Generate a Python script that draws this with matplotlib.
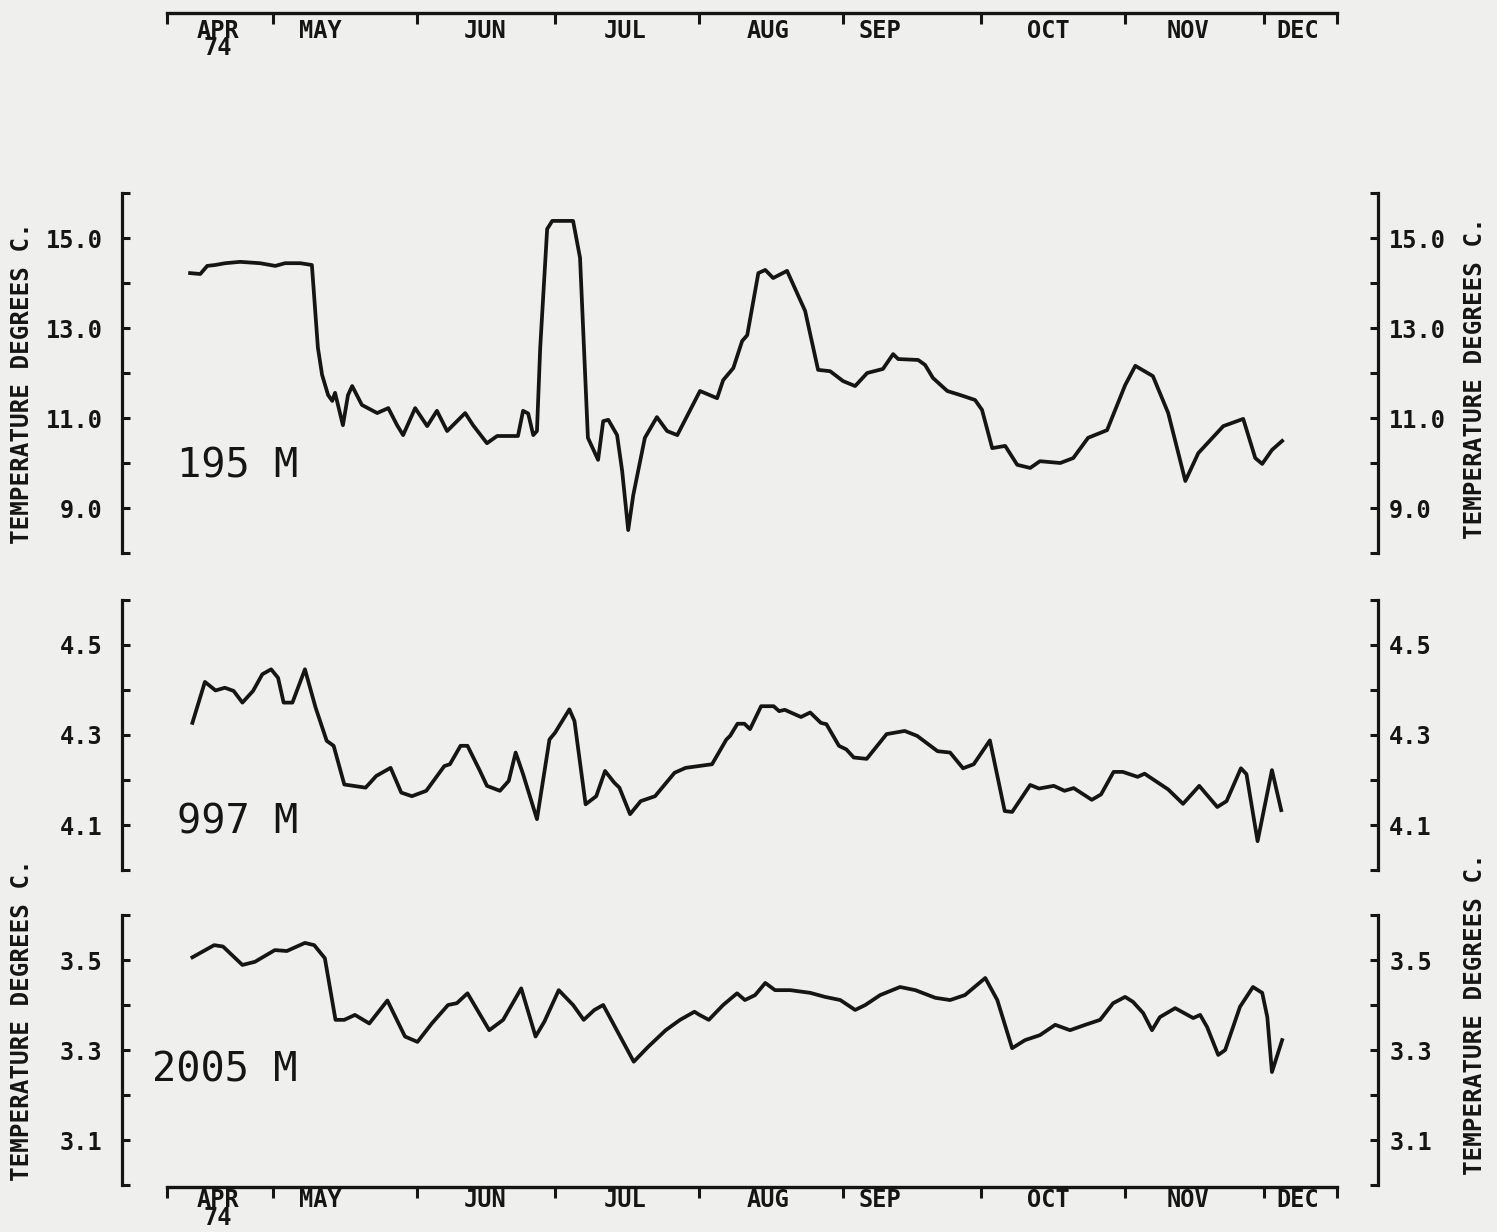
import matplotlib.pyplot as plt

# x values are days counted from 1 April 1974
day_195 = [12.1, 14.3, 15.8, 17.5, 19.7, 22.9, 27.2, 30.5, 32.6, 35.9, 38.4, 39.7,
           40.6, 41.9, 42.8, 43.4, 45.1, 46.2, 47.1, 49.2, 52.5, 54.9, 56.8, 58.1,
           60.7, 63.3, 65.4, 67.6, 71.5, 73.2, 76.2, 78.4, 82.9, 84.0, 85.1, 86.2,
           87.0, 87.7, 89.2, 90.3, 94.8, 96.3, 98.0, 100.2, 101.3, 102.4, 104.3, 105.4,
           106.7, 107.8, 110.3, 112.9, 115.1, 117.3, 122.2, 125.9, 127.2, 129.4, 131.3, 132.4,
           134.8, 136.3, 138.0, 141.0, 144.9, 147.7, 150.3, 153.1, 155.7, 158.3, 161.7, 163.9,
           165.0, 169.3, 170.8, 172.5, 175.6, 178.4, 181.6, 183.1, 185.3, 188.1, 190.7, 193.5,
           195.6, 200.0, 202.8, 206.0, 210.1, 214.0, 216.2, 220.0, 223.3, 227.0, 229.8, 235.2,
           239.5, 242.1, 243.6, 245.7, 247.9]
temp_195 = [14.22, 14.20, 14.38, 14.40, 14.44, 14.47, 14.44, 14.38, 14.44, 14.44, 14.40, 12.56,
            11.96, 11.51, 11.38, 11.56, 10.84, 11.51, 11.71, 11.29, 11.11, 11.22, 10.84, 10.62,
            11.22, 10.82, 11.16, 10.71, 11.11, 10.84, 10.44, 10.60, 10.60, 11.16, 11.10, 10.62,
            10.71, 12.56, 15.20, 15.38, 15.38, 14.56, 10.56, 10.07, 10.93, 10.96, 10.62, 9.82,
            8.51, 9.29, 10.56, 11.02, 10.71, 10.62, 11.60, 11.44, 11.84, 12.11, 12.71, 12.84,
            14.22, 14.29, 14.11, 14.27, 13.38, 12.07, 12.04, 11.82, 11.71, 12.00, 12.09, 12.42,
            12.31, 12.29, 12.18, 11.89, 11.60, 11.51, 11.40, 11.18, 10.33, 10.38, 9.96, 9.89,
            10.04, 10.00, 10.11, 10.56, 10.73, 11.73, 12.16, 11.93, 11.11, 9.60, 10.22, 10.82,
            10.98, 10.11, 9.98, 10.29, 10.49]

day_997 = [12.6, 15.3, 17.6, 19.6, 21.5, 23.4, 25.7, 27.7, 29.6, 31.1, 32.3, 34.2,
           36.9, 39.2, 41.6, 43.1, 45.4, 50.0, 52.3, 55.4, 57.7, 60.0, 63.1, 67.0,
           68.2, 70.5, 72.0, 74.7, 76.2, 79.0, 80.9, 82.4, 84.0, 87.0, 89.7, 90.9,
           94.0, 95.1, 97.5, 99.8, 101.7, 103.7, 104.8, 107.1, 109.4, 112.5, 116.7, 119.1,
           124.8, 127.9, 128.7, 130.3, 131.8, 133.0, 135.4, 138.1, 139.3, 140.5, 144.0, 146.0,
           148.3, 149.5, 152.2, 153.8, 155.4, 158.2, 162.5, 166.4, 169.1, 173.5, 176.2, 179.0,
           181.3, 184.8, 188.0, 189.6, 193.5, 195.4, 198.6, 200.9, 202.9, 206.8, 208.8, 211.5,
           213.5, 216.7, 218.2, 223.3, 226.5, 230.0, 233.9, 235.9, 239.0, 240.2, 242.6, 245.7,
           247.7]
temp_997 = [4.327, 4.418, 4.399, 4.405, 4.398, 4.372, 4.398, 4.435, 4.446, 4.427, 4.372, 4.372,
            4.446, 4.361, 4.287, 4.276, 4.190, 4.183, 4.209, 4.227, 4.172, 4.164, 4.176, 4.231,
            4.235, 4.276, 4.276, 4.220, 4.187, 4.176, 4.198, 4.261, 4.213, 4.113, 4.290, 4.305,
            4.357, 4.331, 4.146, 4.164, 4.220, 4.194, 4.183, 4.124, 4.153, 4.164, 4.216, 4.227,
            4.235, 4.290, 4.298, 4.325, 4.325, 4.313, 4.364, 4.364, 4.353, 4.356, 4.340, 4.350,
            4.327, 4.324, 4.276, 4.268, 4.250, 4.247, 4.302, 4.309, 4.298, 4.264, 4.261, 4.226,
            4.235, 4.288, 4.131, 4.129, 4.189, 4.181, 4.187, 4.176, 4.182, 4.156, 4.168, 4.218,
            4.218, 4.207, 4.214, 4.179, 4.147, 4.187, 4.140, 4.153, 4.226, 4.213, 4.064, 4.222,
            4.133]

day_2005 = [12.6, 17.3, 19.2, 23.4, 26.1, 30.4, 33.0, 36.9, 38.9, 41.2, 43.5, 45.4,
            47.7, 50.8, 54.7, 58.5, 61.2, 64.3, 67.8, 69.7, 72.0, 76.7, 79.7, 83.6,
            86.7, 88.6, 91.7, 94.8, 97.1, 99.4, 101.3, 107.9, 111.0, 114.8, 117.9, 121.0,
            122.1, 124.1, 127.2, 130.2, 131.9, 134.1, 136.3, 138.4, 141.7, 146.0, 149.2, 152.5,
            155.7, 157.9, 161.1, 165.4, 168.7, 173.0, 176.2, 179.4, 183.8, 186.4, 189.6, 192.4,
            195.6, 198.9, 202.1, 205.4, 208.6, 211.4, 214.0, 215.7, 217.9, 219.8, 221.5, 224.8,
            228.7, 230.2, 231.7, 234.1, 235.6, 238.8, 241.6, 243.6, 244.7, 245.7, 247.9]
temp_2005 = [3.506, 3.533, 3.530, 3.489, 3.496, 3.522, 3.520, 3.538, 3.533, 3.504, 3.367, 3.367,
             3.378, 3.359, 3.410, 3.330, 3.318, 3.359, 3.400, 3.404, 3.426, 3.344, 3.367, 3.437,
             3.330, 3.363, 3.433, 3.400, 3.367, 3.389, 3.400, 3.274, 3.307, 3.344, 3.367, 3.385,
             3.378, 3.367, 3.400, 3.426, 3.411, 3.422, 3.449, 3.433, 3.433, 3.427, 3.418, 3.411,
             3.389, 3.400, 3.422, 3.440, 3.433, 3.416, 3.411, 3.422, 3.460, 3.411, 3.304, 3.322,
             3.333, 3.356, 3.344, 3.356, 3.367, 3.404, 3.418, 3.407, 3.382, 3.344, 3.373, 3.393,
             3.371, 3.378, 3.351, 3.289, 3.300, 3.396, 3.440, 3.427, 3.373, 3.251, 3.322]

month_names = ['APR\n74', 'MAY', 'JUN', 'JUL', 'AUG', 'SEP', 'OCT', 'NOV', 'DEC']
month_starts = [30, 61, 91, 122, 153, 183, 214, 244]
label_days = [18.1, 40.2, 75.8, 106.0, 136.9, 161.1, 197.4, 227.6, 251.3]
axis_start, axis_end = 7.1, 259.8

W, H = 1497, 1232
ink = '#151515'
paper = '#efefed'
tfont = dict(fontfamily='DejaVu Sans Mono', fontweight='bold', fontsize=17)

fig = plt.figure(figsize=(W / 100, H / 100), dpi=100, facecolor=paper)

# (x, y, top px, bottom px, ylim, labelled ticks, unlabelled ticks, name, name y px)
panels = [
    (day_195, temp_195, 193, 553, (8, 16), [9, 11, 13, 15], [8, 10, 12, 14, 16], '195 M', 466),
    (day_997, temp_997, 600, 870, (4.0, 4.6), [4.1, 4.3, 4.5], [4.0, 4.2, 4.4, 4.6], '997 M', 822),
    (day_2005, temp_2005, 915, 1185, (3.0, 3.6), [3.1, 3.3, 3.5], [3.0, 3.2, 3.4, 3.6], '2005 M', 1070),
]

for x, y, top, bot, ylim, major, minor, name, ny in panels:
    ax = fig.add_axes([122 / W, 1 - bot / H, 1256 / W, (bot - top) / H])
    ax.patch.set_visible(False)
    ax.plot(x, y, color=ink, lw=2.7, solid_joinstyle='round')
    ax.set_xlim(-2.6, 268.6)
    ax.set_ylim(*ylim)
    ax.set_xticks([])
    for s in ['top', 'bottom']:
        ax.spines[s].set_visible(False)
    for s in ['left', 'right']:
        ax.spines[s].set_linewidth(2.3)
        ax.spines[s].set_color(ink)
    labels = ['%.1f' % v for v in major]
    ax.set_yticks(major, labels, **tfont)
    ax.set_yticks(minor, minor=True)
    ax.tick_params(axis='y', which='both', direction='in', length=6, width=2.2,
                   color=ink, labelcolor=ink, pad=14)
    ax.tick_params(axis='y', which='both', right=False)

    ax2 = ax.twinx()
    ax2.set_ylim(*ylim)
    ax2.set_yticks(major, labels, **tfont)
    ax2.set_yticks(minor, minor=True)
    ax2.tick_params(axis='y', which='both', direction='in', length=6, width=2.2,
                    color=ink, labelcolor=ink, pad=8)
    for s in ['top', 'bottom', 'left', 'right']:
        ax2.spines[s].set_visible(False)

    fig.text(298 / W, 1 - ny / H, name, ha='right', va='center',
             fontfamily='DejaVu Sans Mono', fontsize=29, color=ink)

ylab = dict(rotation=90, ha='center', va='center', color=ink,
            fontfamily='DejaVu Sans Mono', fontweight='bold', fontsize=17.5)
fig.text(22 / W, 1 - 383 / H, 'TEMPERATURE DEGREES C.', **ylab)
fig.text(1475 / W, 1 - 378 / H, 'TEMPERATURE DEGREES C.', **ylab)
fig.text(22 / W, 1 - 1020 / H, 'TEMPERATURE DEGREES C.', **ylab)
fig.text(1475 / W, 1 - 1014 / H, 'TEMPERATURE DEGREES C.', **ylab)

# month scales above and below the panels
for ypx, pad in [(13, 4), (1187, 1)]:
    axm = fig.add_axes([167 / W, 1 - ypx / H, 1170 / W, 0.0005])
    axm.patch.set_visible(False)
    axm.set_xlim(axis_start, axis_end)
    axm.set_ylim(0, 1)
    axm.set_yticks([])
    for s in ['top', 'left', 'right']:
        axm.spines[s].set_visible(False)
    axm.spines['bottom'].set_linewidth(2.4)
    axm.spines['bottom'].set_color(ink)
    axm.set_xticks([axis_start] + month_starts + [axis_end], [''] * 10)
    axm.set_xticks(label_days, month_names, minor=True, **tfont)
    axm.tick_params(axis='x', which='major', direction='out', length=8, width=2.2, color=ink)
    axm.tick_params(axis='x', which='minor', length=0, pad=pad, labelcolor=ink)
    for lab in axm.get_xticklabels(minor=True):
        lab.set_linespacing(0.68)

fig.savefig('out.png', dpi=100, facecolor=paper)
